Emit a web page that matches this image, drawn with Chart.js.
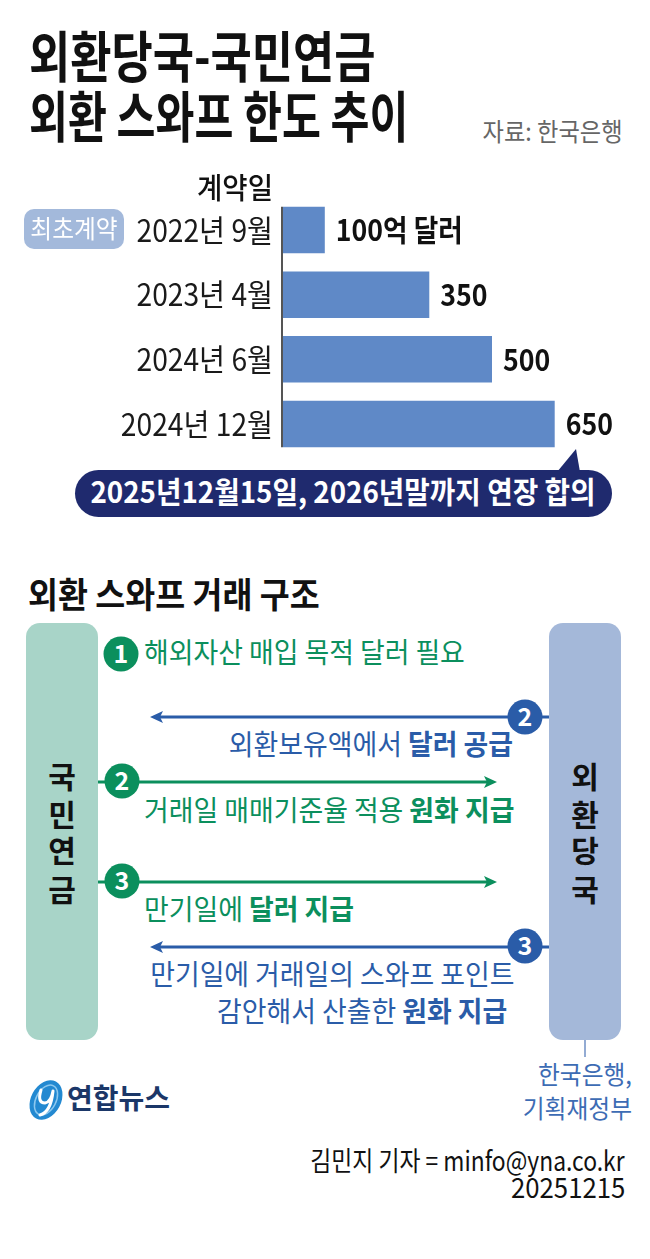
<!DOCTYPE html>
<html>
<head>
<meta charset="utf-8">
<script src="https://cdn.jsdelivr.net/npm/chart.js@4.4.1/dist/chart.umd.min.js"></script>
<style>
html, body { margin: 0; padding: 0; background: #fff; }
body { width: 650px; height: 1259px; position: relative; overflow: hidden; font-family: 'Noto Sans CJK KR', 'Noto Sans', sans-serif; }
.t { position: absolute; white-space: nowrap; line-height: 1; }
.t b { font-weight: 700; }
#chartBox { position: absolute; left: 0; top: 190px; width: 650px; height: 275px; }
#bg { position: absolute; left: 0; top: 0; }
</style>
</head>
<body>
<svg id="bg" width="650" height="1259" xmlns="http://www.w3.org/2000/svg" font-family="Noto Sans CJK KR" font-weight="700">
  <!-- badge + callout -->
  <rect x="24" y="209" width="100" height="40" rx="10" fill="#a3b9db"/>
  <rect x="75" y="470" width="537" height="47" rx="23.5" fill="#1f2a6e"/>
  <polygon points="557,472 576,449 580,472" fill="#1f2a6e"/>

  <!-- swap structure -->
  <rect x="26" y="623" width="72" height="417" rx="14" fill="#a8d4c8"/>
  <rect x="549" y="623" width="72" height="417" rx="14" fill="#a4b8d9"/>
  <line x1="585" y1="1040" x2="585" y2="1057" stroke="#6f8fc4" stroke-width="1.5"/>

  <line x1="158" y1="717" x2="549" y2="717" stroke="#2a5ca8" stroke-width="3"/>
  <polygon points="150,717 163,711 160,717 163,723" fill="#2a5ca8"/>
  <line x1="98" y1="782" x2="490" y2="782" stroke="#0b8f5d" stroke-width="3"/>
  <polygon points="497,782 484,776 487,782 484,788" fill="#0b8f5d"/>
  <line x1="98" y1="882" x2="490" y2="882" stroke="#0b8f5d" stroke-width="3"/>
  <polygon points="497,882 484,876 487,882 484,888" fill="#0b8f5d"/>
  <line x1="158" y1="947" x2="549" y2="947" stroke="#2a5ca8" stroke-width="3"/>
  <polygon points="150,947 163,941 160,947 163,953" fill="#2a5ca8"/>

  <g fill="#fff" font-size="25" text-anchor="middle">
    <circle cx="121" cy="654" r="17.5" fill="#0b8f5d"/><text x="121" y="663">1</text>
    <circle cx="122" cy="781" r="17.5" fill="#0b8f5d"/><text x="122" y="790">2</text>
    <circle cx="122" cy="881" r="17.5" fill="#0b8f5d"/><text x="122" y="890">3</text>
    <circle cx="525" cy="717" r="17.5" fill="#2a5ca8"/><text x="525" y="726">2</text>
    <circle cx="525" cy="946" r="17.5" fill="#2a5ca8"/><text x="525" y="955">3</text>
  </g>

  <!-- logo mark -->
  <g transform="rotate(28 46 1100)">
    <ellipse cx="46" cy="1100" rx="15" ry="21" fill="#2389d1"/>
    <ellipse cx="46" cy="1100" rx="10" ry="16" fill="none" stroke="#8cc8ef" stroke-width="1.5"/>
  </g>
  <path d="M41 1090 Q37 1103 45 1103 Q51 1102 53 1091 M53 1091 Q51 1112 40 1115" fill="none" stroke="#fff" stroke-width="3" stroke-linecap="round"/>
</svg>

<div id="chartBox"><canvas id="swapChart" width="650" height="275"></canvas></div>
<div id="texts"></div>

<script>
const categories = ['2022년 9월', '2023년 4월', '2024년 6월', '2024년 12월'];
const limits = [100, 350, 500, 650];
const unit = '억 달러';

const drawCondensed = (ctx, text, x, y, sx, align) => {
    ctx.save();
    ctx.translate(x, y);
    ctx.scale(sx, 1);
    ctx.textAlign = align;
    ctx.textBaseline = 'middle';
    ctx.fillText(text, 0, 0);
    ctx.restore();
};

const labelPlugin = {
    id: 'swapLabels',
    afterDatasetsDraw(chart) {
        const { ctx, chartArea, scales } = chart;
        const bars = chart.getDatasetMeta(0).data;
        const first = bars[0], last = bars[bars.length - 1];

        ctx.save();
        ctx.strokeStyle = '#555';
        ctx.lineWidth = 2;
        ctx.beginPath();
        ctx.moveTo(chartArea.left - 1, first.y - first.height / 2);
        ctx.lineTo(chartArea.left - 1, last.y + last.height / 2);
        ctx.stroke();

        ctx.fillStyle = '#1a1a1a';
        ctx.font = '400 31px "Noto Sans CJK KR"';
        categories.forEach((c, i) => {
            drawCondensed(ctx, c, chartArea.left - 10, scales.y.getPixelForValue(i), 0.91, 'right');
        });

        ctx.fillStyle = '#111';
        ctx.font = '700 30px "Noto Sans CJK KR"';
        bars.forEach((b, i) => {
            const txt = i === 0 ? limits[i] + unit : String(limits[i]);
            drawCondensed(ctx, txt, b.x + 11, b.y, 0.89, 'left');
        });
        ctx.restore();
    }
};

new Chart(document.getElementById('swapChart'), {
    type: 'bar',
    data: {
        labels: categories,
        datasets: [{
            data: limits,
            backgroundColor: '#5f89c7',
            borderWidth: 0,
            barPercentage: 0.72,
            categoryPercentage: 1
        }]
    },
    options: {
        indexAxis: 'y',
        responsive: false,
        animation: false,
        layout: { padding: { left: 283, right: 32.6, top: 7.7, bottom: 8.7 } },
        plugins: { legend: { display: false }, tooltip: { enabled: false } },
        scales: {
            x: { display: false, min: 0, max: 800 },
            y: { display: false, grid: { display: false } }
        }
    },
    plugins: [labelPlugin]
});

// static text of the infographic: [html, x, inkCenterY, size, weight, color, scaleX, align]
const texts = [
    ['외환당국-국민연금', 29, 57, 55, 700, '#111', 0.815, 'left'],
    ['외환 스와프 한도 추이', 29, 116.5, 55, 700, '#111', 0.77, 'left'],
    ['자료: 한국은행', 623, 131.5, 25, 400, '#666', 0.93, 'right'],
    ['계약일', 273, 188.5, 29, 500, '#111', 0.95, 'right'],
    ['최초계약', 74, 229, 25, 400, '#fff', 0.95, 'center'],
    ['2025년12월15일, 2026년말까지 연장 합의', 343, 492, 30, 700, '#fff', 0.925, 'center'],
    ['외환 스와프 거래 구조', 28, 594, 35, 700, '#111', 0.93, 'left'],
    ['해외자산 매입 목적 달러 필요', 144, 652.5, 28, 400, '#0b8f5d', 0.96, 'left'],
    ['외환보유액에서 <b>달러 공급</b>', 513, 745, 28, 400, '#2a5ca8', 0.96, 'right'],
    ['거래일 매매기준율 적용 <b>원화 지급</b>', 144, 811, 28, 400, '#0b8f5d', 0.96, 'left'],
    ['만기일에 <b>달러 지급</b>', 144, 910, 28, 400, '#0b8f5d', 0.96, 'left'],
    ['만기일에 거래일의 스와프 포인트', 514, 975, 28, 400, '#2a5ca8', 0.96, 'right'],
    ['감안해서 산출한 <b>원화 지급</b>', 507, 1012, 28, 400, '#2a5ca8', 0.96, 'right'],
    ['한국은행,', 632, 1075, 25, 400, '#3d6cb4', 0.95, 'right'],
    ['기획재정부', 632, 1109, 25, 400, '#3d6cb4', 0.95, 'right'],
    ['연합뉴스', 67, 1099, 28, 700, '#1b3768', 1, 'left'],
    ['김민지 기자 = minfo@yna.co.kr', 625, 1161, 27, 400, '#111', 0.846, 'right'],
    ['20251215', 625, 1187.5, 28, 400, '#111', 0.92, 'right']
];

const boxChars = [['국', '민', '연', '금'], ['외', '환', '당', '국']];
const boxX = [62, 585];
const charY = [776.5, 814.5, 850.5, 889.5];
boxChars.forEach((chars, b) => {
    chars.forEach((ch, i) => texts.push([ch, boxX[b], charY[i], 30, 700, '#111', 1, 'center']));
});

const holder = document.getElementById('texts');
texts.forEach(([html, x, y, size, weight, color, sx, align]) => {
    const el = document.createElement('div');
    el.className = 't';
    el.innerHTML = html;
    el.style.fontSize = size + 'px';
    el.style.fontWeight = weight;
    el.style.color = color;
    el.style.top = (y - 0.556 * size) + 'px';
    if (align === 'left') {
        el.style.left = x + 'px';
        el.style.transformOrigin = 'left center';
        el.style.transform = `scaleX(${sx})`;
    } else if (align === 'right') {
        el.style.right = (650 - x) + 'px';
        el.style.transformOrigin = 'right center';
        el.style.transform = `scaleX(${sx})`;
    } else {
        el.style.left = x + 'px';
        el.style.transform = `translateX(-50%) scaleX(${sx})`;
    }
    holder.appendChild(el);
});
</script>
</body>
</html>
